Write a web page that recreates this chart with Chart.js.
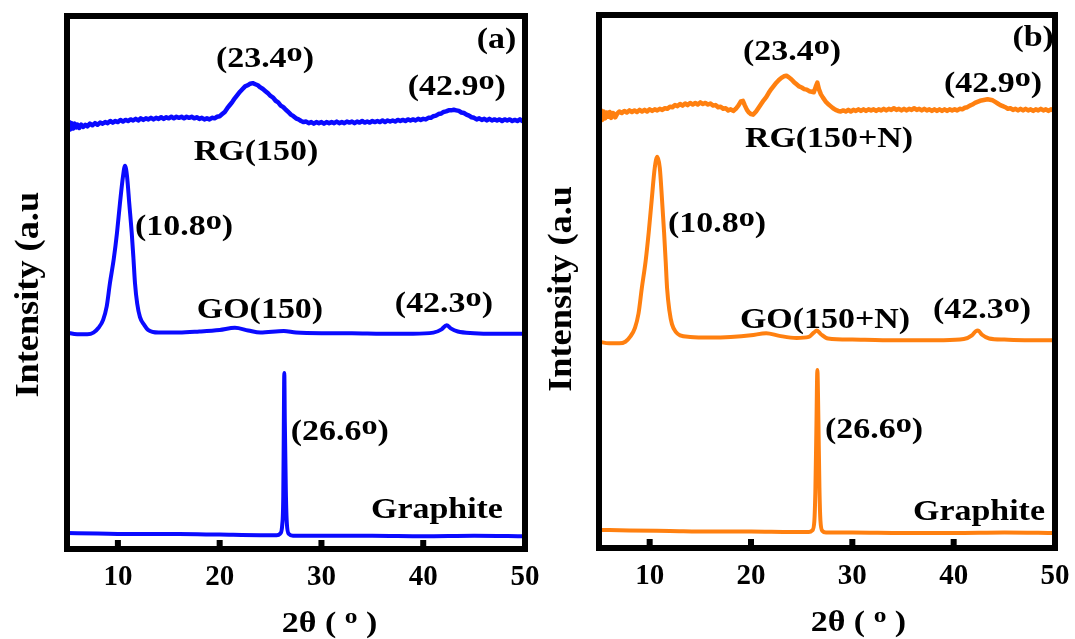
<!DOCTYPE html>
<html>
<head>
<meta charset="utf-8">
<script src="https://cdn.jsdelivr.net/npm/chart.js@4.4.1/dist/chart.umd.min.js"></script>
<style>
  html, body { margin: 0; padding: 0; background: #ffffff; }
  #wrap { position: relative; width: 1075px; height: 639px; overflow: hidden; background: #fff; }
  canvas { position: absolute; top: 0; }
  #cA { left: 0px; }
  #cB { left: 540px; }
</style>
</head>
<body>
<div id="wrap">
  <canvas id="cA" width="540" height="639"></canvas>
  <canvas id="cB" width="535" height="639"></canvas>
</div>
<script>
// ---------- data: [2θ (deg), intensity (a.u., offset stacked)] ----------
const xTicks = [10, 20, 30, 40, 50];

// Panel (a) – blue
const graphiteA = [[5,3.0],[8,2.9],[12,2.8],[16,2.8],[20,2.7],[24,2.6],[25.6,2.6],[25.95,2.9],[26.15,4.6],[26.25,10],[26.3,22],[26.35,33.0],[26.4,24],[26.5,11],[26.6,4.8],[26.8,2.8],[27.2,2.5],[30,2.5],[35,2.5],[40,2.4],[45,2.5],[50,2.4]];
const goA = [[5,40.6],[6,40.3],[7,40.3],[7.6,40.6],[8.1,41.5],[8.55,43.0],[8.9,45.5],[9.22,49.9],[9.6,54.5],[9.91,59.3],[10.2,64.8],[10.5,69.9],[10.7,71.9],[10.9,69.9],[11.12,64.8],[11.36,59.3],[11.53,54.5],[11.68,49.9],[11.9,46],[12.17,43.5],[12.6,42],[12.96,41.1],[14,40.6],[16,40.6],[18,40.8],[20,41.1],[21.5,41.5],[22.8,41.0],[24,40.6],[26.3,40.9],[27.5,40.6],[30,40.5],[33,40.5],[36,40.4],[39,40.4],[41,40.6],[41.8,41.2],[42.3,42.0],[42.7,41.4],[43.4,40.8],[45,40.5],[47,40.4],[50,40.4]];
const rgA = [[5.0,80.8],[5.1,79.0],[5.2,80.1],[5.3,78.7],[5.45,79.9],[5.6,78.9],[5.75,79.8],[5.9,79.1],[6.05,79.6],[6.2,79.0],[6.4,79.6],[6.6,79.2],[6.8,79.6],[7.0,79.3],[7.25,79.8],[7.5,79.5],[7.75,79.9],[8.0,79.6],[8.25,80.0],[8.5,79.8],[8.75,80.1],[9.0,79.9],[9.25,80.3],[9.5,80.0],[9.75,80.3],[10.0,80.1],[10.25,80.5],[10.5,80.2],[10.75,80.5],[11.0,80.3],[11.25,80.6],[11.5,80.4],[11.75,80.7],[12.0,80.4],[12.25,80.8],[12.5,80.5],[12.75,80.8],[13.0,80.6],[13.25,80.9],[13.5,80.6],[13.75,80.9],[14.0,80.7],[14.25,81.0],[14.5,80.7],[14.75,81.0],[15.0,80.8],[15.25,81.1],[15.5,80.8],[15.75,81.1],[16.0,80.9],[16.25,81.1],[16.5,80.8],[16.75,81.1],[17.0,80.9],[17.25,81.1],[17.5,80.8],[17.75,81.0],[18.0,80.7],[18.25,80.9],[18.5,80.6],[18.75,80.8],[19.0,80.6],[19.25,80.9],[19.5,80.8],[19.75,81.1],[20.0,81.2],[20.25,81.6],[20.5,82.0],[20.75,82.7],[21.0,83.3],[21.25,83.9],[21.5,84.6],[21.75,85.2],[22.0,85.8],[22.25,86.3],[22.5,86.8],[22.75,87.0],[23.0,87.3],[23.25,87.4],[23.5,87.2],[23.75,87.0],[24.0,86.6],[24.25,86.3],[24.5,85.9],[24.75,85.5],[25.0,85.0],[25.25,84.7],[25.5,84.1],[25.75,83.8],[26.0,83.2],[26.25,82.9],[26.5,82.4],[26.75,82.0],[27.0,81.5],[27.25,81.2],[27.5,80.8],[27.75,80.6],[28.0,80.3],[28.25,80.1],[28.5,80.2],[28.75,79.9],[29.0,80.1],[29.25,79.8],[29.5,80.1],[29.75,79.9],[30.0,80.1],[30.25,79.8],[30.5,80.1],[30.75,79.9],[31.0,80.1],[31.25,79.9],[31.5,80.2],[31.75,79.9],[32.0,80.1],[32.25,79.9],[32.5,80.2],[32.75,80.0],[33.0,80.2],[33.25,79.9],[33.5,80.2],[33.75,80.0],[34.0,80.3],[34.25,80.0],[34.5,80.2],[34.75,80.0],[35.0,80.3],[35.25,80.1],[35.5,80.3],[35.75,80.1],[36.0,80.4],[36.25,80.1],[36.5,80.4],[36.75,80.2],[37.0,80.4],[37.25,80.2],[37.5,80.5],[37.75,80.3],[38.0,80.5],[38.25,80.3],[38.5,80.6],[38.75,80.4],[39.0,80.6],[39.25,80.4],[39.5,80.7],[39.75,80.5],[40.0,80.7],[40.25,80.6],[40.5,80.9],[40.75,80.9],[41.0,81.2],[41.25,81.3],[41.5,81.6],[41.75,81.7],[42.0,82.0],[42.25,82.1],[42.5,82.3],[42.75,82.3],[43.0,82.4],[43.25,82.3],[43.5,82.2],[43.75,81.9],[44.0,81.8],[44.25,81.5],[44.5,81.3],[44.75,81.0],[45.0,80.9],[45.25,80.6],[45.5,80.8],[45.75,80.5],[46.0,80.7],[46.25,80.4],[46.5,80.7],[46.75,80.4],[47.0,80.6],[47.25,80.4],[47.5,80.6],[47.75,80.3],[48.0,80.6],[48.25,80.4],[48.5,80.6],[48.75,80.3],[49.0,80.5],[49.25,80.3],[49.5,80.6],[49.75,80.3],[50.0,80.5]];

// Panel (b) – orange
const graphiteB = [[5,3.4],[8,3.3],[12,3.2],[16,3.1],[20,3.1],[24,3.0],[25.7,3.0],[26.05,3.3],[26.25,5.0],[26.35,10.5],[26.45,22],[26.55,33.4],[26.65,24],[26.75,11.5],[26.85,5.2],[27.05,3.2],[27.4,2.9],[30,2.9],[35,2.8],[40,2.8],[45,2.9],[50,2.8]];
const goB = [[5,38.7],[6,38.4],[7,38.4],[7.6,38.7],[8.1,39.7],[8.55,41.3],[8.9,44],[9.22,48.7],[9.6,53.8],[9.91,59.3],[10.2,65.3],[10.5,71.3],[10.75,73.4],[11.0,71.3],[11.22,65.3],[11.42,59.3],[11.58,53.8],[11.72,48.7],[11.95,44.5],[12.2,42.0],[12.6,40.5],[13,39.9],[14,39.6],[16,39.5],[18,39.6],[20,39.9],[21.5,40.3],[22.8,39.8],[24.5,39.4],[25.7,39.6],[26.2,40.4],[26.5,40.8],[26.9,40.1],[27.6,39.3],[30,39.1],[33,39.0],[36,39.0],[39,39.0],[41,39.2],[41.8,39.9],[42.2,40.7],[42.4,40.8],[42.8,40.0],[43.5,39.3],[45,39.1],[47,39.0],[50,39.0]];
const rgB = [[5.0,82.6],[5.1,80.5],[5.2,82.1],[5.3,80.3],[5.45,81.9],[5.6,80.6],[5.75,81.7],[5.9,80.9],[6.05,81.8],[6.2,80.7],[6.4,81.6],[6.6,80.8],[6.8,81.5],[7.0,81.9],[7.25,81.6],[7.5,82.0],[7.75,81.7],[8.0,82.1],[8.25,81.8],[8.5,82.1],[8.75,81.8],[9.0,82.2],[9.25,81.9],[9.5,82.2],[9.75,81.9],[10.0,82.3],[10.25,82.0],[10.5,82.3],[10.75,82.1],[11.0,82.4],[11.25,82.2],[11.5,82.5],[11.75,82.4],[12.0,82.8],[12.25,82.7],[12.5,83.1],[12.75,82.9],[13.0,83.3],[13.25,83.0],[13.5,83.4],[13.75,83.1],[14.0,83.5],[14.25,83.2],[14.5,83.5],[14.75,83.2],[15.0,83.6],[15.25,83.3],[15.5,83.5],[15.75,83.2],[16.0,83.4],[16.25,83.0],[16.5,83.1],[16.75,82.7],[17.0,82.8],[17.25,82.4],[17.5,82.5],[17.75,82.1],[18.0,82.3],[18.25,82.0],[18.5,82.4],[18.75,83.0],[19.0,83.8],[19.2,83.9],[19.4,83.0],[19.6,82.2],[19.8,81.7],[20.0,81.4],[20.2,81.3],[20.5,81.9],[20.75,82.6],[21.0,83.3],[21.25,84.0],[21.5,84.6],[21.75,85.4],[22.0,86.1],[22.25,86.7],[22.5,87.3],[22.75,87.8],[23.0,88.2],[23.25,88.5],[23.5,88.6],[23.75,88.3],[24.0,87.9],[24.25,87.4],[24.5,87.0],[24.75,86.6],[25.0,86.4],[25.25,86.1],[25.5,86.0],[25.75,85.7],[26.0,85.6],[26.2,85.5],[26.4,86.6],[26.55,87.3],[26.7,86.1],[26.9,85.1],[27.1,84.5],[27.35,83.8],[27.6,83.3],[27.85,82.9],[28.1,82.5],[28.35,82.2],[28.6,82.0],[28.85,81.9],[29.1,82.1],[29.35,81.9],[29.6,82.2],[29.85,81.9],[30.1,82.2],[30.35,82.0],[30.6,82.3],[30.85,82.0],[31.1,82.3],[31.35,82.0],[31.6,82.3],[31.85,82.1],[32.1,82.3],[32.35,82.0],[32.6,82.3],[32.85,82.1],[33.1,82.4],[33.35,82.1],[33.6,82.4],[33.85,82.2],[34.1,82.5],[34.35,82.2],[34.6,82.4],[34.85,82.1],[35.1,82.4],[35.35,82.1],[35.6,82.4],[35.85,82.2],[36.1,82.5],[36.35,82.2],[36.6,82.4],[36.85,82.1],[37.1,82.4],[37.35,82.1],[37.6,82.3],[37.85,82.0],[38.1,82.3],[38.35,82.0],[38.6,82.3],[38.85,82.0],[39.1,82.3],[39.35,82.0],[39.6,82.3],[39.85,82.1],[40.1,82.3],[40.35,82.1],[40.6,82.4],[40.85,82.3],[41.1,82.6],[41.35,82.7],[41.6,83.0],[41.85,83.2],[42.1,83.5],[42.35,83.7],[42.6,83.9],[42.85,84.0],[43.1,84.1],[43.35,84.2],[43.6,84.1],[43.85,84.0],[44.1,83.7],[44.35,83.4],[44.6,83.1],[44.85,82.9],[45.1,82.7],[45.35,82.4],[45.6,82.5],[45.85,82.2],[46.1,82.4],[46.35,82.1],[46.6,82.4],[46.85,82.1],[47.1,82.4],[47.35,82.1],[47.6,82.3],[47.85,82.0],[48.1,82.3],[48.35,82.1],[48.6,82.4],[48.85,82.1],[49.1,82.3],[49.35,82.0],[49.6,82.3],[49.85,82.1],[50.0,82.3]];

// annotation texts
const labelTextsA = ['(a)', '(23.4°)', '(42.9°)', 'RG(150)', '(10.8°)', 'GO(150)', '(42.3°)', '(26.6°)', 'Graphite'];
const labelTextsB = ['(b)', '(23.4°)', '(42.9°)', 'RG(150+N)', '(10.8°)', 'GO(150+N)', '(42.3°)', '(26.6°)', 'Graphite'];
const xTitle = '2θ ( ° )';
const yTitle = 'Intensity (a.u';

// ---------- annotation placement (data units) ----------
const placeA = [[47.2,94.0],[24.45,90.4],[43.3,85.2],[23.57,73.0],[16.5,58.9],[23.96,43.3],[42.03,44.5],[31.8,20.4],[41.35,5.8]];
const placeB = [[47.84,94.1],[24.05,91.6],[43.89,85.6],[27.7,75.3],[16.65,59.3],[27.3,41.3],[42.8,43.2],[32.15,20.6],[42.5,5.3]];

const FONT = '"Liberation Serif", "Times New Roman", serif';

function drawStretched(ctx, text, cx, by, size, sx, degScale, degRaise, rotate) {
  const main = `bold ${size}px ${FONT}`;
  const deg = `bold ${size * degScale}px ${FONT}`;
  const parts = text.split('°');
  let w = 0;
  parts.forEach((p, i) => {
    ctx.font = main; w += ctx.measureText(p).width;
    if (i < parts.length - 1) { ctx.font = deg; w += ctx.measureText('o').width; }
  });
  ctx.save();
  ctx.translate(cx, by);
  if (rotate) ctx.rotate(-Math.PI / 2);
  ctx.scale(sx, 1);
  ctx.textAlign = 'left';
  ctx.textBaseline = 'alphabetic';
  ctx.fillStyle = '#000';
  let xx = -w / 2;
  parts.forEach((p, i) => {
    ctx.font = main; ctx.fillText(p, xx, 0); xx += ctx.measureText(p).width;
    if (i < parts.length - 1) {
      ctx.font = deg; ctx.fillText('o', xx, -size * degRaise); xx += ctx.measureText('o').width;
    }
  });
  ctx.restore();
}

const panelPlugin = {
  id: 'panelDecor',
  afterDraw(chart, args, opts) {
    const { ctx, chartArea: a, scales: { x, y } } = chart;
    ctx.save();
    // inward tick marks from the x scale
    ctx.fillStyle = '#000';
    xTicks.forEach(v => {
      if (v >= x.max) return;
      const px = x.getPixelForValue(v);
      ctx.fillRect(px - 3, a.bottom - 9, 6, 9);
    });
    // frame
    ctx.strokeStyle = '#000';
    ctx.lineWidth = 6;
    ctx.strokeRect(a.left, a.top, a.right - a.left, a.bottom - a.top);
    ctx.restore();
    // annotations
    opts.texts.forEach((t, i) => {
      const [vx, vy] = opts.places[i];
      drawStretched(ctx, t, x.getPixelForValue(vx), y.getPixelForValue(vy), 29, 1.17, 0.95, 0.2, false);
    });
    // x title
    drawStretched(ctx, xTitle, x.getPixelForValue(opts.xTitleAt), a.bottom + 83, 29, 1.17, 0.75, 0.3, false);
    // y title
    drawStretched(ctx, yTitle, a.left + opts.yTitleDx, y.getPixelForValue(opts.yTitleAt), 33, 1.1, 0.9, 0.24, true);
  }
};

function makeChart(id, series, color, texts, places, pad, axisH, extra) {
  return new Chart(document.getElementById(id), {
    type: 'line',
    data: {
      datasets: series.map((s, k) => ({
        data: s.map(([px, py]) => ({ x: px, y: py })),
        borderColor: color,
        borderWidth: k === 2 ? 4.5 : 4,
        pointRadius: 0,
        tension: 0,
        cubicInterpolationMode: k === 2 ? 'default' : 'monotone',
        fill: false,
        borderJoinStyle: 'round',
        borderCapStyle: 'round'
      }))
    },
    options: {
      responsive: false,
      animation: false,
      devicePixelRatio: 1,
      layout: { padding: pad },
      plugins: {
        legend: { display: false },
        tooltip: { enabled: false },
        panelDecor: Object.assign({ texts, places }, extra)
      },
      scales: {
        x: {
          type: 'linear', min: 5, max: 50,
          afterBuildTicks: s => { s.ticks = xTicks.map(v => ({ value: v })); },
          afterFit: s => { s.height = axisH; s.paddingLeft = 0; s.paddingRight = 0; },
          grid: { display: false },
          border: { display: false },
          ticks: {
            autoSkip: false, maxRotation: 0, padding: 3, color: '#000',
            font: { family: FONT, size: 29, weight: 'bold', lineHeight: 1.2 }
          }
        },
        y: { display: false, min: 0, max: 100 }
      }
    },
    plugins: [panelPlugin]
  });
}

makeChart('cA', [graphiteA, goA, rgA], '#0a0aff', labelTextsA, placeA,
  { left: 67, right: 15, top: 16, bottom: 0 }, 90,
  { xTitleAt: 30.8, yTitleAt: 47.7, yTitleDx: -29 });
makeChart('cB', [graphiteB, goB, rgB], '#ff8010', labelTextsB, placeB,
  { left: 59, right: 20, top: 15, bottom: 0 }, 91,
  { xTitleAt: 30.6, yTitleAt: 48.6, yTitleDx: -28 });
</script>
</body>
</html>
